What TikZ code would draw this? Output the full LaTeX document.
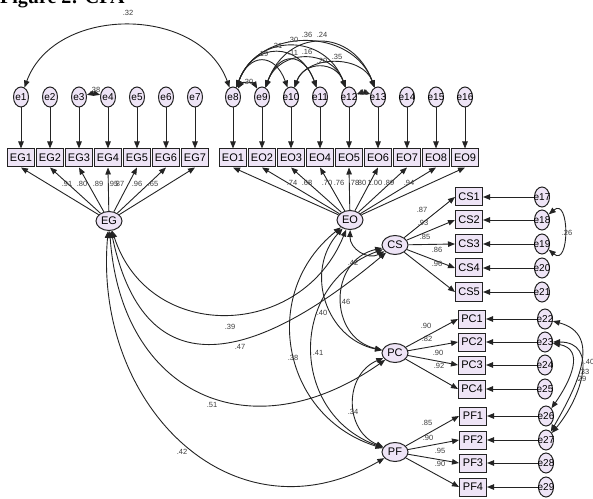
\documentclass[tikz,border=0pt]{standalone}
\usepackage{fontspec}
\setmainfont{Liberation Sans}
\newfontfamily\titlefont{Liberation Serif}
\usetikzlibrary{shapes.geometric,arrows.meta}
\definecolor{nodefill}{RGB}{238,228,246}
\definecolor{edgecol}{RGB}{35,35,35}
\definecolor{coefcol}{RGB}{60,60,60}
\newcommand\zw[1]{\makebox[0pt]{#1}}
\begin{document}
\begin{tikzpicture}[x=1pt,y=1pt,
 obsbox/.style={rectangle,draw=edgecol,fill=nodefill,line width=1pt,minimum width=27pt,minimum height=18pt,inner sep=0pt,font=\fontsize{11}{12}\selectfont},
 errnode/.style={ellipse,draw=edgecol,fill=nodefill,line width=1pt,minimum width=15pt,minimum height=20pt,inner sep=0pt,font=\fontsize{10}{11}\selectfont},
 latnode/.style={ellipse,draw=edgecol,fill=nodefill,line width=1pt,minimum width=26pt,minimum height=19pt,inner sep=0pt,font=\fontsize{11}{12}\selectfont},
 coef/.style={font=\fontsize{7.5}{8}\selectfont,inner sep=0pt,text=coefcol},
 onehead/.style={-{Triangle[length=7pt,width=5.5pt]},line width=0.9pt,draw=edgecol},
 twohead/.style={{Triangle[length=7pt,width=5.5pt]}-{Triangle[length=7pt,width=5.5pt]},line width=0.9pt,draw=edgecol},
]
\useasboundingbox (0,0) rectangle (593,498);
\node[font=\titlefont\bfseries\fontsize{20}{22}\selectfont,anchor=base west,inner sep=0pt] (title) at (0,494) {Figure 2: CFA};

% latent variables
\node[latnode] (EG) at (109,277) {\zw{EG}};
\node[latnode] (EO) at (350,278) {\zw{EO}};
\node[latnode] (CS) at (395,253) {\zw{CS}};
\node[latnode] (PC) at (395,145) {\zw{PC}};
\node[latnode] (PF) at (395,46) {\zw{PF}};

% EG indicators
\foreach \i in {1,...,7} {
  \pgfmathsetmacro\xx{21+29*(\i-1)}
  \node[errnode] (e\i) at (\xx,401) {\zw{e\i}};
  \node[obsbox] (EG\i) at (\xx,340) {EG\i};
  \draw[onehead] (e\i) -- (EG\i);
  \draw[onehead] (EG) -- (EG\i.south);
}
% EO indicators
\foreach \i in {1,...,9} {
  \pgfmathsetmacro\xx{233+29*(\i-1)}
  \pgfmathtruncatemacro\k{\i+7}
  \node[errnode] (e\k) at (\xx,401) {\zw{e\k}};
  \node[obsbox] (EO\i) at (\xx,340) {EO\i};
  \draw[onehead] (e\k) -- (EO\i);
  \draw[onehead] (EO) -- (EO\i.south);
}
% CS indicators
\foreach \i/\yy in {1/301,2/278,3/254,4/230,5/206} {
  \pgfmathtruncatemacro\k{\i+16}
  \node[obsbox] (CS\i) at (469,\yy) {CS\i};
  \node[errnode] (e\k) at (542,\yy) {\zw{e\k}};
  \draw[onehead] (e\k) -- (CS\i);
  \draw[onehead] (CS) -- (CS\i.west);
}
% PC indicators
\foreach \i/\yy in {1/179,2/156,3/133,4/109} {
  \pgfmathtruncatemacro\k{\i+21}
  \node[obsbox] (PC\i) at (472,\yy) {PC\i};
  \node[errnode] (e\k) at (545,\yy) {\zw{e\k}};
  \draw[onehead] (e\k) -- (PC\i);
  \draw[onehead] (PC) -- (PC\i.west);
}
% PF indicators
\foreach \i/\yy in {1/82,2/58,3/35,4/11} {
  \pgfmathtruncatemacro\k{\i+25}
  \node[obsbox] (PF\i) at (473,\yy) {PF\i};
  \node[errnode] (e\k) at (546,\yy) {\zw{e\k}};
  \draw[onehead] (e\k) -- (PF\i);
  \draw[onehead] (PF) -- (PF\i.west);
}

% error covariances (top)
\draw[twohead] (e1) to[out=70,in=110,looseness=1.1] (e8);
\draw[twohead] (e3) to[bend left=15] (e4);
\draw[twohead] (e8) to[out=70,in=110,looseness=1.2] (e13);
\draw[twohead] (e9) to[out=70,in=110,looseness=1.5] (e13);
\draw[twohead] (e8) to[out=70,in=110,looseness=1.37] (e12);
\draw[twohead] (e8) to[out=70,in=110,looseness=1.58] (e11);
\draw[twohead] (e8) to[out=70,in=110,looseness=1.87] (e10);
\draw[twohead] (e9) to[out=70,in=110,looseness=1.94] (e11);
\draw[twohead] (e9) to[out=70,in=110,looseness=1.33] (e12);
\draw[twohead] (e10) to[out=70,in=110,looseness=1.12] (e13);
\draw[twohead] (e10) to[out=70,in=110,looseness=1.44] (e12);
\draw[twohead] (e8) to[bend left=60] (e9);
\draw[twohead] (e12) to[bend left=20] (e13);

% error covariances (right)
\draw[twohead] (e18) to[out=40,in=-40,looseness=2] (e19);
\draw[twohead] (e22) to[out=-15,in=60,looseness=1.2] (e27);
\draw[twohead] (e23) to[out=-10,in=55,looseness=1.3] (e26);
\draw[twohead] (e23) to[out=0,in=50,looseness=1.3] (e27);

% latent covariances
\draw[twohead] (EG) to[out=-72,in=-112,looseness=1.3] (EO);
\draw[twohead] (EG) to[out=-78,in=-140,looseness=1.55] (CS);
\draw[twohead] (EG) to[out=-86,in=-145,looseness=1.38] (PC);
\draw[twohead] (EG) to[out=-95,in=-150,looseness=1.25] (PF);
\draw[twohead] (EO) to[bend right=60,looseness=1.2] (CS);
\draw[twohead] (EO) to[bend right=60,looseness=1.15] (PC);
\draw[twohead] (EO) to[bend right=62,looseness=1.2] (PF);
\draw[twohead] (CS) to[bend right=77,looseness=1.39] (PC);
\draw[twohead] (CS) to[bend right=70,looseness=1.3] (PF);
\draw[twohead] (PC) to[bend right=67,looseness=1.23] (PF);

% loadings
\foreach \t/\x/\y [count=\n] in {.91/67/314,.80/82/314,.89/98/314,.95/113/314,.87/119/314,.96/137/314,.65/153/314}
  \node[coef] (lg\n) at (\x,\y) {\t};
\foreach \t/\x/\y [count=\n] in {.74/292/315,.68/307/315,.70/327/315,.76/339/315,.78/354/315,.80/361/315,1.00/375/315,.89/389/315,.94/409/315}
  \node[coef] (lo\n) at (\x,\y) {\t};
\foreach \t/\x/\y [count=\n] in {.87/422/288,.93/423/275,.85/425/261,.86/437/248,.96/437/234}
  \node[coef] (lc\n) at (\x,\y) {\t};
\foreach \t/\x/\y [count=\n] in {.90/426/172,.82/427/159,.90/438/145,.92/439/132}
  \node[coef] (lp\n) at (\x,\y) {\t};
\foreach \t/\x/\y [count=\n] in {.85/427/75,.90/428/60,.95/440/47,.90/440/34}
  \node[coef] (lf\n) at (\x,\y) {\t};

% covariance labels
\foreach \t/\x/\y [count=\n] in {.32/128/485,.38/95/408,.21/277/452,.30/293/458,.36/307/463,.24/322/463,.19/263/444,.11/293/445,.16/307/446,.20/322/437,.35/337/441,.30/248/416,.51/363/405,.26/567/265,.40/589/136,.33/584/126,.29/581/119}
  \node[coef] (le\n) at (\x,\y) {\t};
\foreach \t/\x/\y [count=\n] in {.39/230/171,.47/240/151,.51/212/93,.42/182/46,.42/353/235,.46/345/196,.40/322/185,.38/293/140,.41/318/145,.34/353/86}
  \node[coef] (ll\n) at (\x,\y) {\t};
\end{tikzpicture}
\end{document}
